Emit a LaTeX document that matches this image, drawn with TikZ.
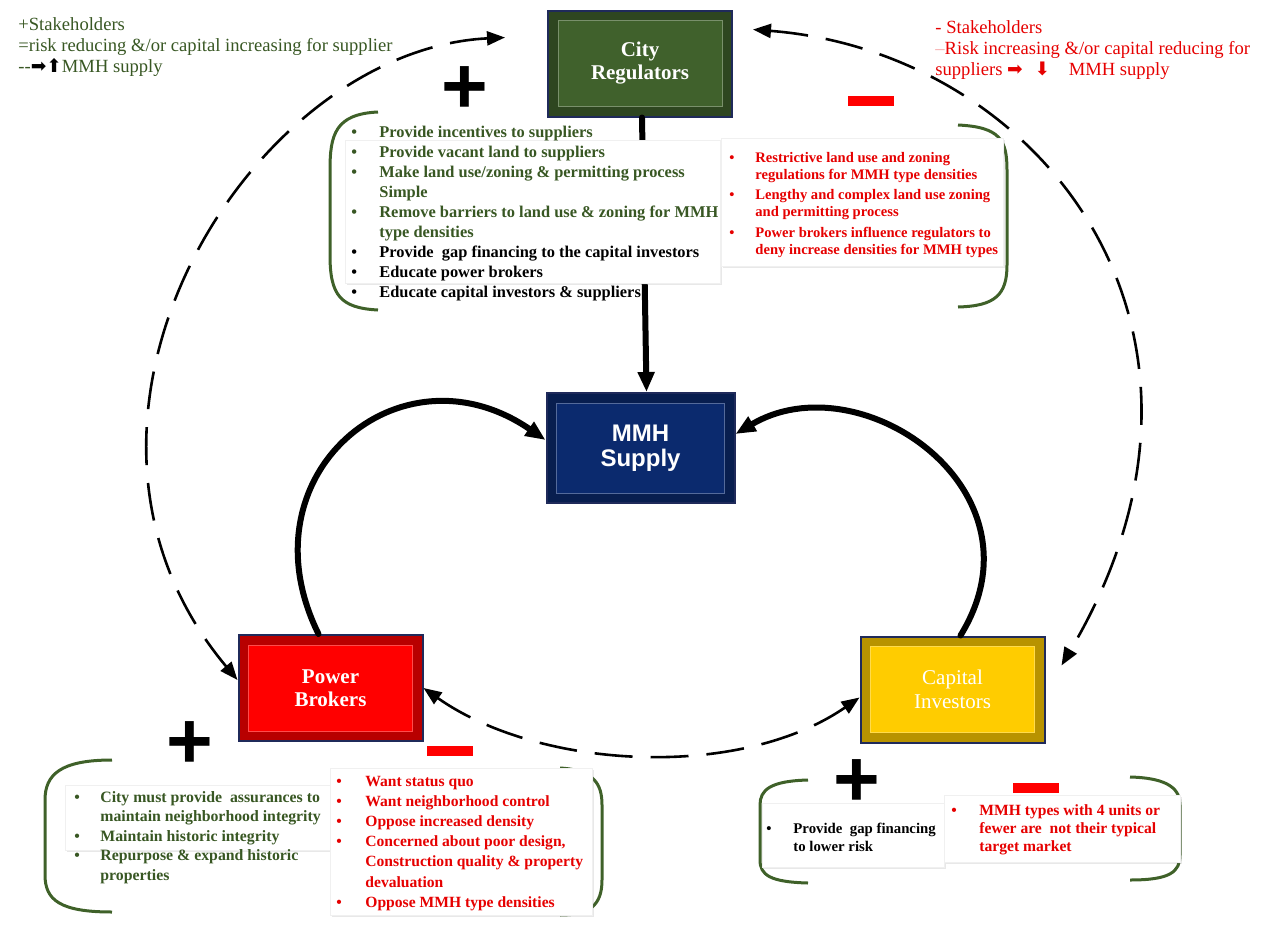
\documentclass[tikz,border=0pt]{standalone}
\usepackage{fontspec}
\setmainfont{Liberation Serif}
\newfontfamily\arialf{Liberation Sans}
\newfontfamily\symf{DejaVu Sans}
\usetikzlibrary{arrows.meta,shadows}

\definecolor{regfill}{HTML}{40612C}
\definecolor{mmhfill}{HTML}{0B2A6E}
\definecolor{pbfill}{HTML}{FF0000}
\definecolor{cifill}{HTML}{FFCC00}
\definecolor{boxline}{HTML}{1F2A5A}
\definecolor{txtgreen}{HTML}{385723}
\definecolor{brkgreen}{HTML}{3F6129}
\definecolor{txtred}{HTML}{E60000}

% bullet rows of the lists
\newcommand{\bpt}[2]{\textcolor{#1}{\textbullet}&\textcolor{#1}{#2}}
\newcommand{\bcont}[2]{&\textcolor{#1}{#2}}

\tikzset{
  actor/.style={draw=boxline, line width=1pt, fill=#1!72!black,
    minimum width=92pt, minimum height=53pt, inner sep=0pt,
    text=white, align=center,
    path picture={\fill[#1] ([shift={(5pt,-5pt)}]path picture bounding box.north west)
      rectangle ([shift={(-5pt,5pt)}]path picture bounding box.south east);
      \draw[#1!70!white, line width=.4pt] ([shift={(5pt,-5pt)}]path picture bounding box.north west)
      rectangle ([shift={(-5pt,5pt)}]path picture bounding box.south east);}},
  boxfont/.style={font=\fontsize{10.5}{11.5}\selectfont\bfseries},
  panel/.style={fill=white, draw=black!6, line width=.3pt,
    drop shadow={shadow xshift=1.2pt, shadow yshift=-1.2pt, opacity=.18}},
  bracket/.style={draw=brkgreen, line width=1.5pt},
  lst/.style={anchor=base west, inner sep=0pt},
  plus/.style={inner sep=0pt, font=\arialf\bfseries\fontsize{40}{40}\selectfont},
  minusbar/.style={fill=pbfill, minimum width=23pt, minimum height=5pt, inner sep=0pt},
  link/.style={line width=3pt, line cap=round, -{Triangle[length=10pt,width=8pt]}},
  loop/.style={line width=1.3pt, dash pattern=on 19pt off 9pt,
    {Triangle[length=9pt,width=7pt]}-{Triangle[length=9pt,width=7pt]}}
}

\begin{document}
\begin{tikzpicture}[x=0.5pt, y=-0.5pt]
  \useasboundingbox (0,0) rectangle (1264,926);

  % stakeholders
  \node[actor=regfill, boxfont] (reg) at (640,63.5) {City\\Regulators};
  \node[actor=mmhfill, minimum width=94pt, minimum height=55pt,
        font=\arialf\bfseries\fontsize{12}{12.5}\selectfont] (mmh) at (640.5,448) {MMH\\Supply};
  \node[actor=pbfill, boxfont] (pb) at (330.5,688) {Power\\Brokers};
  \node[actor=cifill, font=\fontsize{10.5}{12}\selectfont] (ci) at (952.5,689.5) {Capital\\Investors};

  % influences on supply
  \draw[link] ([xshift=1pt]reg.south) -- ([xshift=3pt]mmh.north);
  \draw[link] ([xshift=-6pt]pb.north) .. controls (240,475) and (400,340) .. ([yshift=4pt]mmh.west);
  \draw[link] ([xshift=4pt]ci.north) .. controls (1050,490) and (860,360) .. ([yshift=7pt]mmh.east);

  % dashed loop between stakeholders
  \draw[loop] ([shift={(-21pt,13pt)}]reg.west) .. controls (250,50) and (20,420) .. ([yshift=4pt]pb.west);
  \draw[loop] ([shift={(10pt,17pt)}]reg.east) .. controls (1040,52) and (1260,330) .. ([shift={(8pt,12pt)}]ci.east);
  \draw[loop] (pb.east) .. controls (540,770) and (740,780) .. ([yshift=-4pt]ci.west);

  % legends
  \node[lst, text=txtgreen, font=\fontsize{9.3}{10.5}\selectfont] (legplus) at (18,30)
    {\begin{tabular}[t]{@{}l@{}}
      +Stakeholders\\
      =risk reducing \&/or capital increasing for supplier\\
      -{}-{\symf\color{black}➡⬆}MMH supply
    \end{tabular}};
  \node[lst, text=txtred, font=\fontsize{9.3}{10.5}\selectfont] (legminus) at (935,33)
    {\begin{tabular}[t]{@{}l@{}}
      - Stakeholders\\
      {\color{txtred!35}–}Risk increasing \&/or capital reducing for\\
      suppliers {\symf➡\ \ ⬇}\ \ \ \ MMH supply
    \end{tabular}};

  % city regulators
  \draw[bracket] (378,112) .. controls (335,114) and (330,135) .. (330,170) -- (330,255)
    .. controls (330,295) and (340,308) .. (378,310);
  \draw[bracket] (958,125) .. controls (1000,127) and (1007,140) .. (1007,170) -- (1007,265)
    .. controls (1007,295) and (995,306) .. (958,307);
  \path[panel] (345,140) rectangle (720,283);
  \path[panel] (721,138) rectangle (1003,266);
  \node[plus] (regplus) at (465,90) {+};
  \node[minusbar] (regminus) at (871,101) {};
  \node[lst, font=\fontsize{8.2}{10}\selectfont\bfseries] (regpro) at (351,137)
    {\begin{tabular}[t]{@{}p{14pt}@{}l@{}}
      \bpt{txtgreen}{Provide incentives to suppliers}\\
      \bpt{txtgreen}{Provide vacant land to suppliers}\\
      \bpt{txtgreen}{Make land use/zoning \& permitting process}\\
      \bcont{txtgreen}{Simple}\\
      \bpt{txtgreen}{Remove barriers to land use \& zoning for MMH}\\
      \bcont{txtgreen}{type densities}\\
      \bpt{black}{Provide\ \ gap financing to the capital investors}\\
      \bpt{black}{Educate power brokers}\\
      \bpt{black}{Educate capital investors \& suppliers}
    \end{tabular}};
  \node[lst, font=\fontsize{7.3}{8.6}\selectfont\bfseries] (regcon) at (729,162)
    {\begin{tabular}[t]{@{}p{13pt}@{}l@{}}
      \bpt{txtred}{Restrictive land use and zoning}\\
      \bcont{txtred}{regulations for MMH type densities}\\[1.6pt]
      \bpt{txtred}{Lengthy and complex land use zoning}\\
      \bcont{txtred}{and permitting process}\\[1.6pt]
      \bpt{txtred}{Power brokers influence regulators to}\\
      \bcont{txtred}{deny increase densities for MMH types}
    \end{tabular}};

  % power brokers
  \draw[bracket] (112,760) .. controls (60,760) and (45,775) .. (45,800) -- (45,875)
    .. controls (45,900) and (60,912) .. (112,912);
  \draw[bracket] (560,768) .. controls (595,770) and (602,785) .. (602,805) -- (602,880)
    .. controls (602,905) and (590,915) .. (560,915);
  \path[panel] (65,785) rectangle (330,850);
  \path[panel] (330,768) rectangle (592,915);
  \node[plus] (pbplus) at (190,745) {+};
  \node[minusbar] (pbminus) at (450,751) {};
  \node[lst, font=\fontsize{7.9}{9.8}\selectfont\bfseries] (pbpro) at (74,802)
    {\begin{tabular}[t]{@{}p{13pt}@{}l@{}}
      \bpt{txtgreen}{City must provide\ \ assurances to}\\
      \bcont{txtgreen}{maintain neighborhood integrity}\\
      \bpt{txtgreen}{Maintain historic integrity}\\
      \bpt{txtgreen}{Repurpose \& expand historic}\\
      \bcont{txtgreen}{properties}
    \end{tabular}};
  \node[lst, font=\fontsize{7.8}{10.1}\selectfont\bfseries] (pbcon) at (336,786)
    {\begin{tabular}[t]{@{}p{14.5pt}@{}l@{}}
      \bpt{txtred}{Want status quo}\\
      \bpt{txtred}{Want neighborhood control}\\
      \bpt{txtred}{Oppose increased density}\\
      \bpt{txtred}{Concerned about poor design,}\\
      \bcont{txtred}{Construction quality \& property}\\
      \bcont{txtred}{devaluation}\\
      \bpt{txtred}{Oppose MMH type densities}
    \end{tabular}};

  % capital investors
  \draw[bracket] (808,780) .. controls (770,781) and (760,790) .. (760,805) -- (760,860)
    .. controls (760,875) and (770,882) .. (808,883);
  \draw[bracket] (1130,777) .. controls (1170,778) and (1180,790) .. (1180,805) -- (1180,855)
    .. controls (1180,872) and (1170,880) .. (1130,880);
  \path[panel] (762,803) rectangle (944,867);
  \path[panel] (944,795) rectangle (1180,862);
  \node[plus] (ciplus) at (857,783) {+};
  \node[minusbar] (ciminus) at (1036,788) {};
  \node[lst, font=\fontsize{7.4}{9}\selectfont\bfseries] (cipro) at (766,833)
    {\begin{tabular}[t]{@{}p{13.5pt}@{}l@{}}
      \bpt{black}{Provide\ \ gap financing}\\
      \bcont{black}{to lower risk}
    \end{tabular}};
  \node[lst, font=\fontsize{7.8}{9}\selectfont\bfseries] (cicon) at (951,815)
    {\begin{tabular}[t]{@{}p{14pt}@{}l@{}}
      \bpt{txtred}{MMH types with 4 units or}\\
      \bcont{txtred}{fewer are\ \ not their typical}\\
      \bcont{txtred}{target market}
    \end{tabular}};
\end{tikzpicture}
\end{document}
